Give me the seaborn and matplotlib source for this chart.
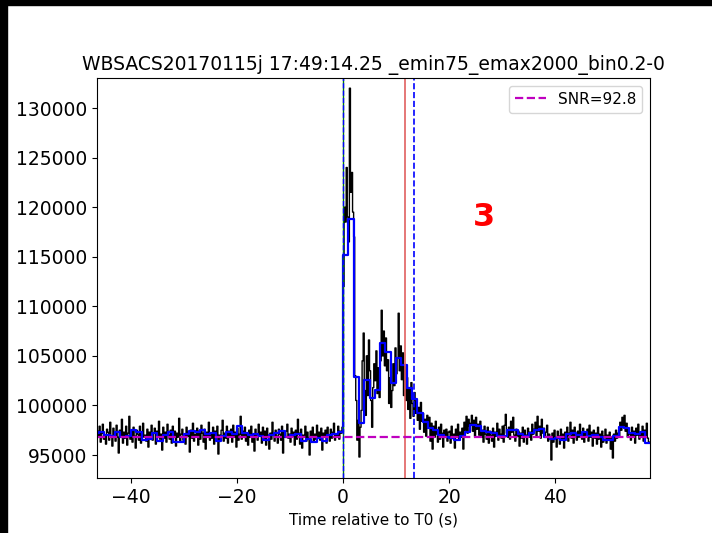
import numpy as np
import pandas as pd
import matplotlib
matplotlib.use("Agg")
import matplotlib.pyplot as plt
import seaborn as sns
from matplotlib.patches import Rectangle

# Lichtkurve, 0.2 s Bins (schwarz) und 1 s Bins (blau)
bin_fein = 0.2
t_start_fein = -46.4
bin_grob = 1.0
t_start_grob = -47.0

counts_vor = [
    97400, 96800, 97900, 96300, 97200, 98100, 96600, 97000, 96100, 97600,
    97300, 96500, 98300, 96900, 95900, 97700, 97100, 96400, 98000, 96800,
    95200, 97500, 97000, 98600, 96200, 97300, 96700, 97900, 96000, 97200,
    98900, 96600, 97400, 96300, 97800, 96900, 95700, 97500, 97100, 96500,
    97900, 96200, 97300, 98200, 96800, 97000, 96400, 97600, 95800, 97300,
    96900, 98000, 96500, 97200, 97700, 96100, 97400, 96800, 98400, 96600,
    97100, 95500, 97800, 96700, 97300, 96300, 98100, 97000, 96600, 97500,
    96200, 97900, 96900, 97400, 95900, 97200, 96800, 98700, 96400, 97100,
    97600, 96500, 97000, 96100, 97800, 96900, 97300, 95300, 97500, 96700,
    98200, 96400, 97100, 96800, 97700, 96000, 97400, 96600, 98000, 97200,
    96300, 97600, 95600, 97300, 96900, 98300, 96500, 97100, 96700, 97800,
    96100, 97400, 96800, 97900, 95100, 97000, 96600, 97500, 98500, 96400,
    97200, 96700, 97900, 96200, 97400, 96900, 97600, 96300, 98000, 96800,
    97300, 95800, 97700, 96500, 97100, 98900, 96600, 97400, 96900, 97800,
    96400, 97200, 96000, 97500, 96800, 97900, 96300, 97100, 95400, 97600,
    97000, 96500, 98100, 96900, 97300, 96200, 97800, 96700, 97400, 96000,
    97700, 96800, 95600, 97200, 96600, 98300, 97000, 96400, 97500, 96900,
    96200, 97600, 97100, 96500, 97900, 95200, 97300, 96800, 97400, 98100,
    96700, 97100, 96300, 97700, 96900, 97300, 96000, 97500, 96600, 98600,
    97200, 96100, 97600, 95700, 97000, 96800, 97900, 96400, 97300, 96700,
    95000, 97400, 96900, 97800, 96300, 97100, 96600, 98000, 96800, 97300,
    96500, 97700, 95500, 97200, 96900, 97500, 96200, 97800, 97000, 96400,
    97600, 96700, 97300, 98200, 96500, 97100, 96800, 97900, 96600, 97400,
    97200, 97800,
]

counts_burst = [
    112000, 120000, 118500, 124000, 119000, 116500, 132000, 121500, 123500, 119500,
    117000, 103000, 100500, 96500, 98500, 94800, 97800, 99500, 104500, 107300,
    101500, 99000, 105000, 101000, 106600, 103500, 100500, 97800, 101800, 104200,
    102500, 105500, 101200, 103800, 100800, 104500, 109600, 105000, 107500, 104000,
    106800, 103500, 104600, 100200, 102800, 99800, 101500, 104200, 102000, 105800,
    103200, 104800, 109300, 103500, 106000, 102600, 105300, 101000, 103900, 100500,
    102800, 99600, 101700, 98700, 102300, 100200, 98900, 101300, 99200, 100500,
    98500, 99800, 97600, 100300, 98400, 99200, 97300, 98600, 96900, 99000,
    97700, 98800, 96400, 98200, 95600, 97900, 96800, 98400, 97100, 96300,
    97800, 96600, 98100, 97200, 95800, 97500, 96900, 97600, 96400, 97300,
]

counts_nach = [
    97400, 96200, 97900, 96700, 97100, 95700, 97600, 96900, 98100, 96500,
    97300, 96800, 97700, 95600, 98300, 97500, 98900, 97200, 98600, 97900,
    98200, 99000, 97400, 98500, 96900, 98800, 97600, 98100, 97000, 98400,
    96800, 97500, 96300, 97900, 97100, 96600, 97800, 96200, 97400, 97000,
    96400, 97700, 95800, 97300, 96900, 98200, 96500, 97600, 97100, 96700,
    97900, 96300, 98000, 99100, 97200, 96800, 97800, 96600, 98400, 97300,
    98800, 97000, 96400, 97600, 96900, 97400, 95900, 97200, 96700, 97800,
    96300, 97500, 97000, 96100, 97700, 96800, 97300, 96500, 98100, 97100,
    97600, 98300, 96900, 98900, 97400, 97900, 96700, 98600, 97200, 97700,
    96800, 97300, 98000, 96400, 97100, 96600, 94500, 97200, 96300, 97500,
    96700, 95800, 97400, 96900, 96100, 97600, 96500, 97100, 95700, 97300,
    96900, 97800, 96400, 97200, 98300, 96700, 97500, 96200, 97800, 97000,
    96500, 97400, 96800, 98100, 97200, 96600, 97700, 96300, 97300, 96900,
    97600, 96400, 98000, 96800, 97300, 95900, 97500, 96700, 97200, 96100,
    97800, 96600, 97100, 95800, 97400, 96300, 96900, 97600, 96200, 97000,
    96500, 97300, 95600, 96800, 94700, 97100, 96400, 97500, 96700, 97200,
    96900, 98300, 97500, 98800, 97900, 99000, 97400, 98200, 96800, 97600,
    97100, 96500, 97800, 96900, 97400, 96200, 97700, 97000, 98100, 96600,
    97300, 96800, 97900, 96400, 97500, 97000, 98200, 96700, 96300,
]

# 1 s Bins ab -47 s
blau_vor = [
    97200, 97300, 97000, 96900, 97300, 96800, 96900, 97500, 97300, 96500,
    96600, 97200, 96400, 97000, 97300, 96300, 96300, 97100, 97400, 97300,
    97500, 97100, 97200, 96400, 96900, 97300, 97100, 97900, 97200, 97000,
    97100, 96900, 96500, 97000, 97200, 97400, 96800, 97000, 97100, 96400,
    96600, 96300, 96700, 96400, 97000, 97100, 97300,
]
blau_burst = [
    115200, 118800, 102900, 98200, 102600, 100800, 101600, 106300, 105400, 102300,
    104800, 104100, 101800, 100600, 99200, 98300, 97700, 97500, 97000, 96800,
]
blau_nach = [
    96700, 96500, 96900, 97300, 98000, 97900, 97400, 97300, 97200, 96900,
    96900, 97500, 97500, 97100, 96900, 97200, 97500, 97600, 96800, 96600,
    96700, 96500, 97100, 97200, 97000, 97300, 96900, 97000, 96800, 96500,
    96500, 96900, 97800, 97700, 97200, 97100, 97300, 96200,
]

untergrund = 96850
snr = 92.8
t_rot = 11.7
t_ende = 13.3

schwarz = counts_vor + counts_burst + counts_nach
blau = blau_vor + blau_burst + blau_nach

# Step-Daten: linke Bin-Kanten plus letzte Kante
t_fein = t_start_fein + bin_fein * np.arange(len(schwarz) + 1)
df_fein = pd.DataFrame({"t": t_fein, "counts": schwarz + [schwarz[-1]]})
t_grob = t_start_grob + bin_grob * np.arange(len(blau) + 1)
df_grob = pd.DataFrame({"t": t_grob, "counts": blau + [blau[-1]]})

fig = plt.figure(figsize=(7.12, 5.33), dpi=100)
ax = fig.add_axes([97 / 712, 1 - 478 / 533, 553 / 712, 400 / 533])

sns.lineplot(data=df_fein, x="t", y="counts", drawstyle="steps-post", color="k",
             lw=1.0, estimator=None, ax=ax)
sns.lineplot(data=df_grob, x="t", y="counts", drawstyle="steps-post", color="b",
             lw=1.6, estimator=None, ax=ax)

ax.axvline(0, color="g", lw=1.0)
ax.axvline(0, color="b", lw=1.0, ls="--")
ax.axvline(t_rot, color="#e06060", lw=1.2)
ax.axvline(t_ende, color="b", lw=1.2, ls="--")
ax.axhline(untergrund, color="m", lw=1.6, ls="--", label=f"SNR={snr}")

ax.text(0.70, 0.65, "3", transform=ax.transAxes, color="red", fontsize=23,
        fontweight="bold", ha="center", va="center")

ax.set_xlim(-46.4, 57.9)
ax.set_ylim(92680, 133030)
ax.set_yticks(np.arange(95000, 130001, 5000))
ax.tick_params(labelsize=13.5)
ax.set_xlabel("Time relative to T0 (s)", fontsize=11)
ax.set_ylabel("")
ax.set_title("WBSACS20170115j 17:49:14.25 _emin75_emax2000_bin0.2-0", fontsize=13.5)
ax.legend(loc="upper right", fontsize=11)

# schwarzer Rand oben und links wie im Original
fig.patches.append(Rectangle((0, 1 - 5 / 533), 1, 5 / 533, transform=fig.transFigure,
                             color="black", zorder=10))
fig.patches.append(Rectangle((0, 0), 7 / 712, 1, transform=fig.transFigure,
                             color="black", zorder=10))

fig.savefig("out.png", dpi=100)
